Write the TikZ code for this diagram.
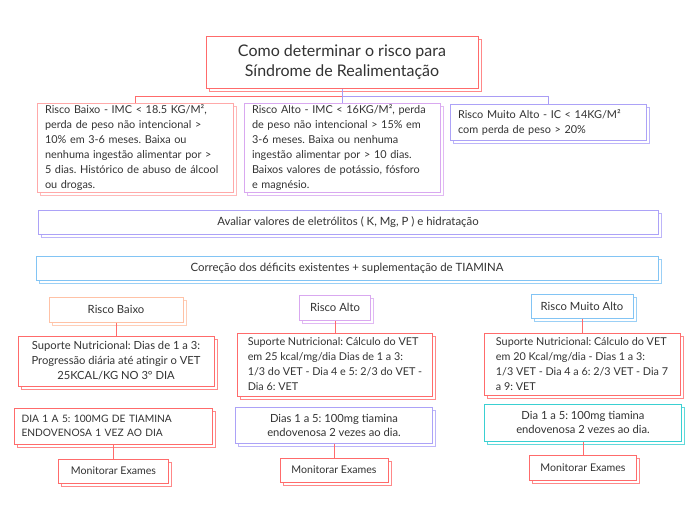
\documentclass[tikz,border=0pt]{standalone}
\usepackage{fontspec}
\setmainfont{Lato}
\usetikzlibrary{shadows}

\definecolor{rootRed}{HTML}{FF6B6B}
\definecolor{lowPink}{HTML}{FFA9A9}
\definecolor{orchid}{HTML}{D9A8F0}
\definecolor{lilac}{HTML}{ACA2F7}
\definecolor{skyBlue}{HTML}{82C4F4}
\definecolor{peach}{HTML}{FFC2A6}
\definecolor{tealBlue}{HTML}{3AD0D2}
\definecolor{linkPurple}{HTML}{A99CF5}
\definecolor{inkGray}{HTML}{333333}

\newcommand{\bodySty}{\fontsize{10.9}{15}\selectfont}
\newcommand{\titleSty}{\fontsize{16}{20}\selectfont}
\newcommand{\barSty}{\fontsize{11.4}{13}\selectfont}
\newcommand{\tagSty}{\fontsize{11.3}{13}\selectfont}
\newcommand{\doseSty}{\fontsize{11.2}{14}\selectfont}
\newcommand{\planSty}{\fontsize{10.8}{15}\selectfont}

\tikzset{
  mapbox/.style={draw=#1, fill=white, text=inkGray, line width=1pt, inner xsep=8pt, inner ysep=2pt,
    copy shadow={draw=#1, fill=white, opacity=0.8, shadow xshift=3pt, shadow yshift=-3pt}},
  link/.style={draw=#1, line width=0.8pt},
}

\begin{document}
\frenchspacing
\begin{tikzpicture}[x=1pt, y=-1pt]

    % page
    \useasboundingbox (0,0) rectangle (696,520);

    % title
    \node[mapbox=rootRed, minimum width=272pt, minimum height=52pt, align=center, font=\titleSty] (root) at (342,62)
      {Como determinar o risco para\\Síndrome de Realimentação};

    % risk criteria
    \node[mapbox=lowPink, minimum width=196pt, minimum height=88pt, text width=180pt, align=left, font=\bodySty] (crBaixo) at (135,148)
      {Risco Baixo - IMC < 18.5 KG/M²,\\perda de peso não intencional >\\10\% em 3-6 meses. Baixa ou\\nenhuma ingestão alimentar por >\\5 dias. Histórico de abuso de álcool\\ou drogas.};
    \node[mapbox=orchid, minimum width=196pt, minimum height=88pt, text width=180pt, align=left, font=\bodySty] (crAlto) at (342,148)
      {Risco Alto - IMC < 16KG/M², perda\\de peso não intencional > 15\% em\\3-6 meses. Baixa ou nenhuma\\ingestão alimentar por > 10 dias.\\Baixos valores de potássio, fósforo\\e magnésio.};
    \node[mapbox=lilac, minimum width=196pt, minimum height=36pt, text width=180pt, align=left, font=\bodySty] (crMuito) at (548,122)
      {Risco Muito Alto - IC < 14KG/M²\\com perda de peso > 20\%};

    % title links
    \coordinate (split) at (342,96);
    \draw[link=rootRed] (split) -| (crBaixo.north);
    \draw[link=linkPurple] (root.south) -- (crAlto.north);
    \draw[link=linkPurple] (split) -| (crMuito.north);

    % common steps
    \node[mapbox=lilac, minimum width=620pt, minimum height=24pt, font=\barSty] (eletro) at (348,222)
      {Avaliar valores de eletrólitos ( K, Mg, P ) e hidratação};
    \node[mapbox=skyBlue, minimum width=622pt, minimum height=24pt, font=\barSty] (tiamina) at (347,268)
      {Correção dos déficits existentes + suplementação de TIAMINA};

    % risk tags
    \node[mapbox=peach, minimum width=134pt, minimum height=25pt, font=\tagSty] (tagBaixo) at (116,309.5) {Risco Baixo};
    \node[mapbox=orchid, minimum width=71pt, minimum height=25pt, inner xsep=3pt, font=\tagSty] (tagAlto) at (335,307.5) {Risco Alto};
    \node[mapbox=skyBlue, minimum width=102pt, minimum height=24pt, inner xsep=3pt, font=\tagSty] (tagMuito) at (582,306) {Risco Muito Alto};

    % nutritional support
    \node[mapbox=rootRed, minimum width=196pt, minimum height=50pt, inner xsep=4pt, align=center, font=\fontsize{11.2}{15}\selectfont] (supBaixo) at (116,361)
      {Suporte Nutricional: Dias de 1 a 3:\\Progressão diária até atingir o VET\\25KCAL/KG NO 3° DIA};
    \node[mapbox=rootRed, minimum width=195pt, minimum height=63pt, inner xsep=4pt, align=left, font=\planSty] (supAlto) at (335,364.5)
      {Suporte Nutricional: Cálculo do VET\\em 25 kcal/mg/dia Dias de 1 a 3:\\1/3 do VET - Dia 4 e 5: 2/3 do VET -\\Dia 6: VET};
    \node[mapbox=rootRed, minimum width=196pt, minimum height=62pt, inner xsep=4pt, align=left, font=\planSty] (supMuito) at (582,364)
      {Suporte Nutricional: Cálculo do VET\\em 20 Kcal/mg/dia - Dias 1 a 3:\\1/3 VET - Dia 4 a 6: 2/3 VET - Dia 7\\a 9: VET};

    \draw[link=rootRed] (tagBaixo.south) -- (supBaixo.north);
    \draw[link=rootRed] (tagAlto.south) -- (supAlto.north);
    \draw[link=rootRed] (tagMuito.south) -- (supMuito.north);

    % thiamine dose
    \node[mapbox=rootRed, minimum width=198pt, minimum height=36pt, text width=184pt, inner xsep=7pt, align=left, font=\fontsize{10.2}{14}\selectfont] (doseBaixo) at (113.5,426)
      {DIA 1 A 5: 100MG DE TIAMINA\\ENDOVENOSA 1 VEZ AO DIA};
    \node[mapbox=lilac, minimum width=197pt, minimum height=36pt, align=center, font=\doseSty] (doseAlto) at (334,425)
      {Dias 1 a 5: 100mg tiamina\\endovenosa 2 vezes ao dia.};
    \node[mapbox=tealBlue, minimum width=197pt, minimum height=37pt, align=center, font=\doseSty] (doseMuito) at (583,422.5)
      {Dia 1 a 5: 100mg tiamina\\endovenosa 2 vezes ao dia.};

    % exams
    \node[mapbox=rootRed, minimum width=110pt, minimum height=24pt, inner xsep=4pt, font=\fontsize{10.6}{13}\selectfont] (examBaixo) at (113.5,471) {Monitorar Exames};
    \node[mapbox=rootRed, minimum width=108pt, minimum height=24pt, inner xsep=4pt, font=\fontsize{10.6}{13}\selectfont] (examAlto) at (334,470) {Monitorar Exames};
    \node[mapbox=rootRed, minimum width=107pt, minimum height=25pt, inner xsep=4pt, font=\fontsize{10.6}{13}\selectfont] (examMuito) at (583,467.5) {Monitorar Exames};

    \draw[link=rootRed] (doseBaixo.south) -- (examBaixo.north);
    \draw[link=rootRed] (doseAlto.south) -- (examAlto.north);
    \draw[link=rootRed] (doseMuito.south) -- (examMuito.north);

\end{tikzpicture}
\end{document}
